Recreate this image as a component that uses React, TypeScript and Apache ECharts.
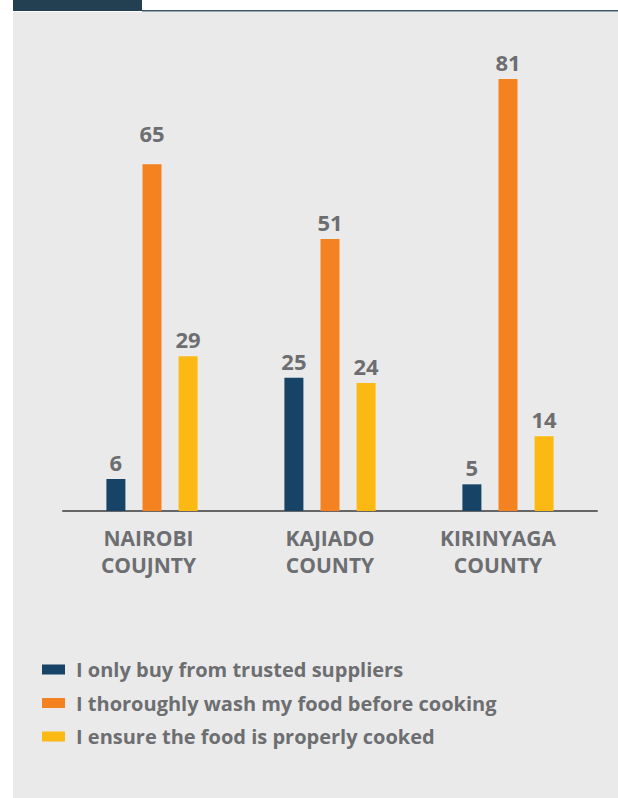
import React, { useEffect, useRef } from "react";
import * as echarts from "echarts";

const categories = ["NAIROBI\nCOUJNTY", "KAJIADO\nCOUNTY", "KIRINYAGA\nCOUNTY"];
const seriesNames = [
  "I only buy from trusted suppliers",
  "I thoroughly wash my food before cooking",
  "I ensure the food is properly cooked",
];
const trustedSuppliers = [6, 25, 5];
const washFood = [65, 51, 81];
const properlyCooked = [29, 24, 14];
const colors = ["#174366", "#f58220", "#fdb913"];
const labelShiftRight = [7, 0, 20];

const FONT = "'Open Sans', 'Noto Sans', sans-serif";
const GREY = "#6d6e71";

export default function App() {
  const ref = useRef<HTMLDivElement>(null);
  useEffect(() => {
    document.body.style.margin = "0";
    const chart = echarts.init(ref.current!, null, { renderer: "svg" });
    const values = [trustedSuppliers, washFood, properlyCooked];
    chart.setOption({
      animation: false,
      backgroundColor: "#ffffff",
      graphic: [
        { type: "rect", shape: { x: 13, y: 12, width: 605, height: 786 }, style: { fill: "#eaeaea" }, z: -10 },
        { type: "rect", shape: { x: 13, y: 0, width: 129, height: 11 }, style: { fill: "#233f52" }, z: -9 },
        { type: "rect", shape: { x: 142, y: 10, width: 476, height: 1.5 }, style: { fill: "#3d5566" }, z: -9 },
      ],
      grid: { left: 63, right: 21, top: 79, bottom: 287, containLabel: false },
      legend: {
        orient: "vertical",
        left: 37,
        top: 654,
        itemWidth: 23,
        itemHeight: 10,
        itemGap: 12.5,
        icon: "rect",
        selectedMode: false,
        textStyle: {
          fontFamily: FONT,
          fontWeight: "bold",
          fontSize: 20,
          lineHeight: 21,
          color: GREY,
          padding: [0, 0, 0, 6],
        },
        data: seriesNames,
      },
      xAxis: {
        type: "category",
        data: categories.map((c, i) => ({
          value: c,
          textStyle: { padding: [0, labelShiftRight[i], 0, 0] },
        })),
        axisLine: { lineStyle: { color: "#666666", width: 2 } },
        axisTick: { show: false },
        axisLabel: {
          margin: 13,
          fontFamily: FONT,
          fontWeight: "bold",
          fontSize: 21,
          lineHeight: 27,
          color: GREY,
        },
      },
      yAxis: {
        type: "value",
        min: 0,
        max: 81,
        show: false,
        splitLine: { show: false },
      },
      series: values.map((v, i) => ({
        name: seriesNames[i],
        type: "bar",
        data: v.map((val) => (val === 65 ? { value: val, label: { distance: 20 } } : val)),
        barWidth: 19,
        barGap: "90%",
        itemStyle: { color: colors[i] },
        label: {
          show: true,
          position: "top",
          distance: 6,
          fontFamily: FONT,
          fontWeight: "bold",
          fontSize: 22,
          color: GREY,
        },
      })),
    });
    return () => chart.dispose();
  }, []);
  return <div ref={ref} style={{ width: 618, height: 798 }} />;
}
